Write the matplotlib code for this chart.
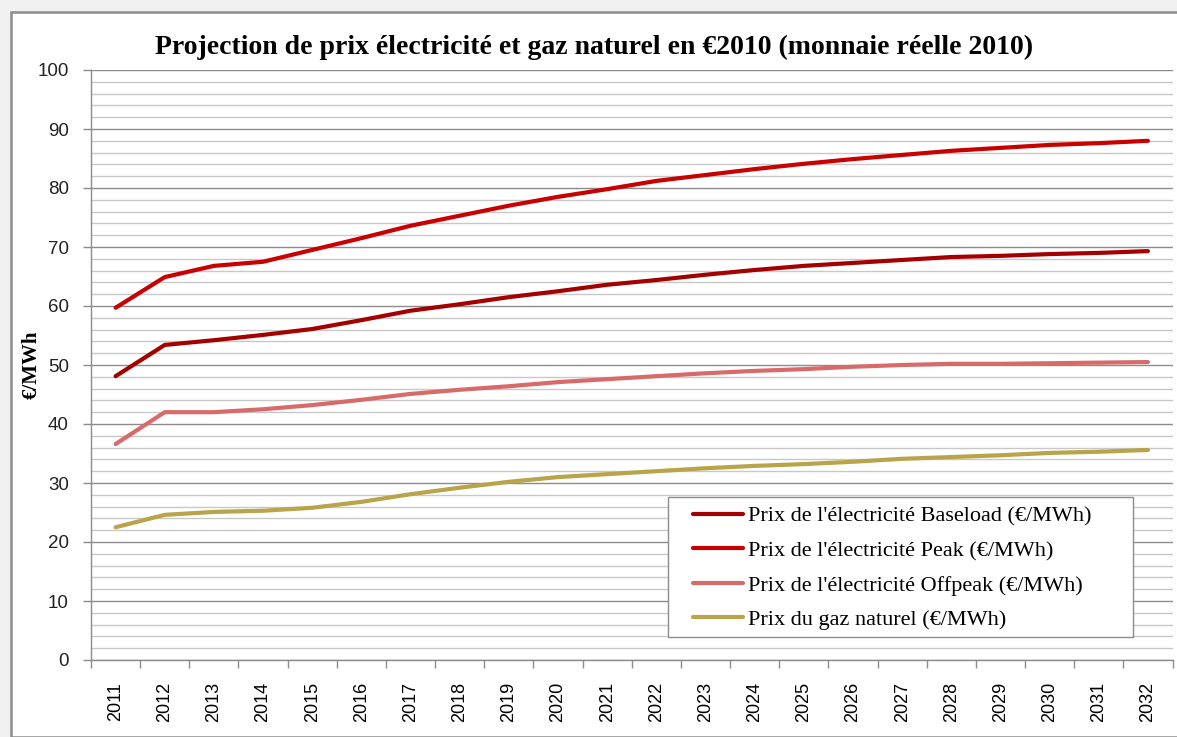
import matplotlib
matplotlib.use("Agg")
import matplotlib.pyplot as plt
from matplotlib.patches import Rectangle
from matplotlib.ticker import MultipleLocator, FixedLocator

years = list(range(2011, 2033))
baseload = [48.1, 53.4, 54.2, 55.1, 56.1, 57.6, 59.2, 60.3, 61.5, 62.5, 63.6,
            64.4, 65.3, 66.1, 66.8, 67.3, 67.8, 68.3, 68.5, 68.8, 69.0, 69.3]
peak = [59.7, 64.9, 66.8, 67.5, 69.5, 71.5, 73.6, 75.3, 77.0, 78.5, 79.8,
        81.2, 82.2, 83.2, 84.1, 84.9, 85.6, 86.3, 86.8, 87.3, 87.6, 88.0]
offpeak = [36.6, 42.0, 42.0, 42.5, 43.2, 44.1, 45.1, 45.8, 46.4, 47.1, 47.6,
           48.1, 48.6, 49.0, 49.3, 49.7, 50.0, 50.2, 50.2, 50.3, 50.4, 50.5]
gaz = [22.5, 24.6, 25.1, 25.3, 25.8, 26.8, 28.1, 29.2, 30.2, 31.0, 31.5,
       32.0, 32.5, 32.9, 33.2, 33.6, 34.1, 34.4, 34.7, 35.1, 35.3, 35.6]

labels = ["Prix de l'électricité Baseload (€/MWh)",
          "Prix de l'électricité Peak (€/MWh)",
          "Prix de l'électricité Offpeak (€/MWh)",
          "Prix du gaz naturel (€/MWh)"]
colors = ["#a50000", "#c80000", "#d96a6a", "#b9a44a"]

W, H = 1177, 737
fig = plt.figure(figsize=(W / 100, H / 100), dpi=100, facecolor="#f0f0f0")
# chart area frame (white, gray border)
fig.patches.append(Rectangle((11 / W, 0), 1.0, 1 - 12 / H, transform=fig.transFigure,
                             facecolor="white", edgecolor="#8c8c8c", linewidth=1.8, zorder=-5))

ax = fig.add_axes([91 / W, 1 - 660 / H, (1172.5 - 91) / W, (660 - 70) / H])
ax.set_zorder(2)
ax.set_facecolor("white")

x = list(range(len(years)))
for serie, c, lab in zip([baseload, peak, offpeak, gaz], colors, labels):
    ax.plot(x, serie, color=c, lw=3.0, label=lab, solid_capstyle="round", zorder=3)

ax.set_xlim(-0.5, len(years) - 0.5)
ax.set_ylim(0, 100)

ax.yaxis.set_major_locator(MultipleLocator(10))
ax.yaxis.set_minor_locator(MultipleLocator(2))
ax.grid(which="major", axis="y", color="#8c8c8c", lw=1.0, zorder=1)
ax.grid(which="minor", axis="y", color="#c8c8c8", lw=1.0, zorder=1)

ax.xaxis.set_major_locator(FixedLocator([i - 0.5 for i in range(len(years) + 1)]))
ax.xaxis.set_minor_locator(FixedLocator(x))
ax.set_xticklabels([])
ax.set_xticklabels([str(y) for y in years], minor=True, rotation=90,
                   fontsize=13, family="Liberation Sans")
ax.tick_params(axis="x", which="major", length=6, color="#8c8c8c", width=1)
ax.tick_params(axis="x", which="minor", length=0, pad=16)
ax.tick_params(axis="y", which="major", length=6, color="#8c8c8c", width=1,
               labelsize=13.5, pad=10)
ax.tick_params(axis="y", which="minor", length=0)
for t in ax.get_yticklabels():
    t.set_family("Liberation Sans")
    t.set_color("#222222")

for s in ["top", "right"]:
    ax.spines[s].set_visible(False)
for s in ["left", "bottom"]:
    ax.spines[s].set_color("#8c8c8c")
    ax.spines[s].set_linewidth(1)

ax.set_ylabel("€/MWh", family="Liberation Serif", fontweight="bold", fontsize=15, labelpad=-3)

fig.text(0.505, 1 - 47 / H, "Projection de prix électricité et gaz naturel en €2010 (monnaie réelle 2010)",
         ha="center", va="center", family="Liberation Serif", fontweight="bold", fontsize=20)

# legend box drawn by hand, entries placed inside it
fig.patches.append(Rectangle((668 / W, 1 - 637 / H), (1133 - 668) / W, (637 - 497) / H,
                             transform=fig.transFigure, facecolor="white",
                             edgecolor="#8c8c8c", linewidth=1, zorder=3))
leg = fig.legend(loc="upper left", bbox_to_anchor=(693 / W, 1 - 506 / H),
                 frameon=False, borderpad=0, borderaxespad=0,
                 prop={"family": "Liberation Serif", "size": 16}, handlelength=2.25,
                 handletextpad=0.22, labelspacing=0.63)
leg.set_zorder(4)

fig.savefig("out.png", dpi=100, facecolor=fig.get_facecolor())
